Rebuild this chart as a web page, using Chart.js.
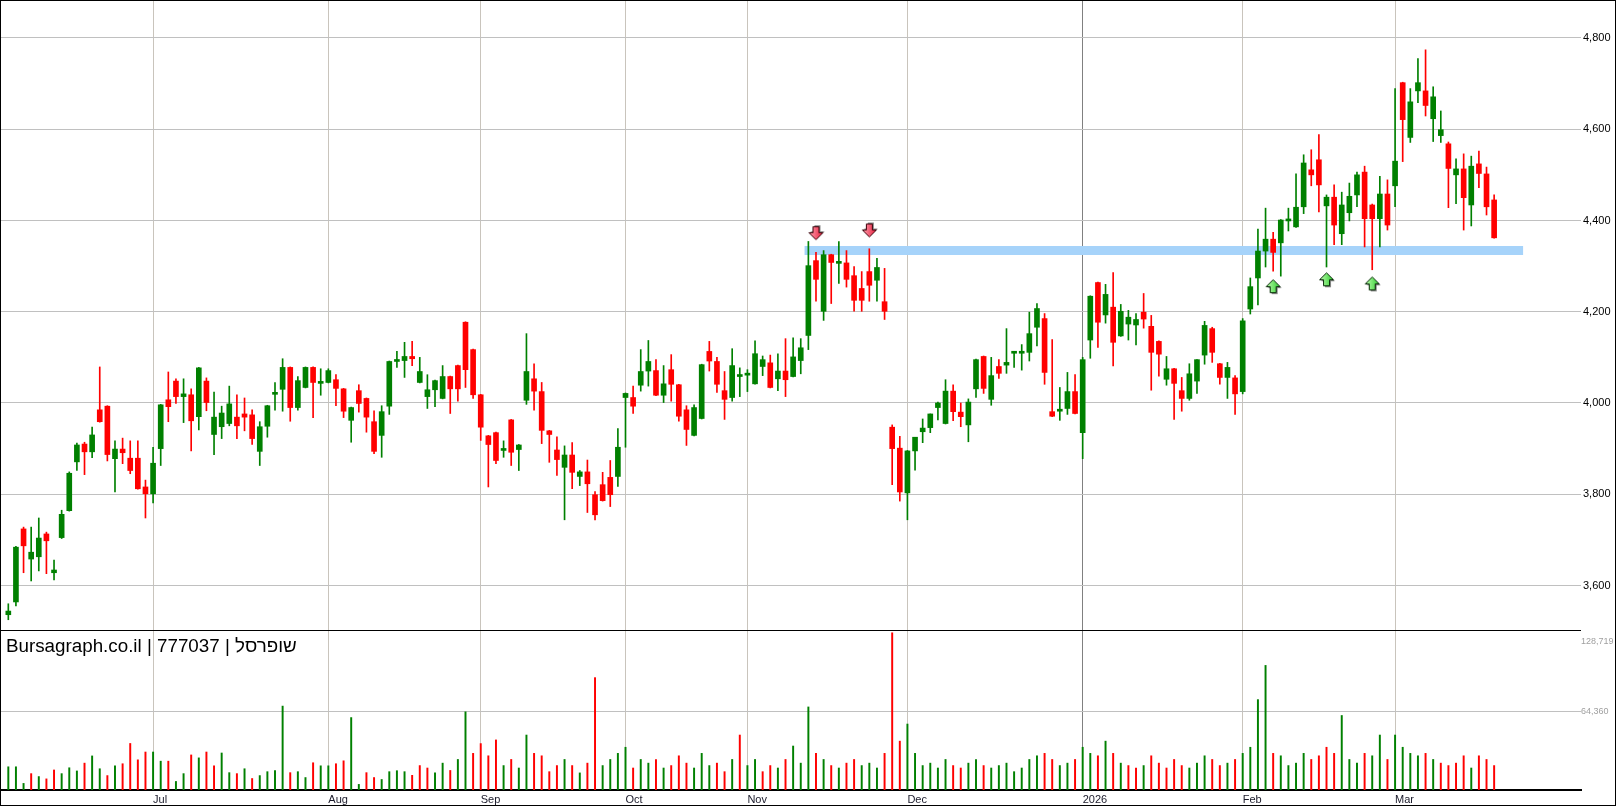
<!DOCTYPE html>
<html>
<head>
<meta charset="utf-8">
<script src="https://cdn.jsdelivr.net/npm/chart.js@4.4.1/dist/chart.umd.min.js"></script>
<style>
    html, body { margin: 0; padding: 0; background: #fff; }
    #wrap { width: 1616px; height: 806px; box-sizing: border-box; border: 1px solid #000; background: #fff; }
    canvas { display: block; }
</style>
</head>
<body>
<div id="wrap"><canvas id="priceChart" width="1614" height="804"></canvas></div>
<script>
// daily candles, index 0 = first trading day shown (June 2025)
const openP = [3536,3564,3724,3658,3663,3713,3628,3705,3764,3871,3910,3893,3985,3993,3878,3899,3879,3879,3816,3801,
    3900,4007,4048,4014,4018,3970,4048,3931,3948,3955,3969,3976,3974,3894,3949,4019,4030,4078,3990,4034,
    4078,4043,4045,4051,4031,3962,4027,4010,3959,3929,3993,4091,4093,4102,4045,4014,4029,4010,4058,4082,
    4177,4117,4018,3928,3935,3896,3963,3898,4006,4053,4025,3939,3897,3859,3886,3839,3849,3799,3821,3837,
    3839,4012,4012,4039,4070,4071,4017,4073,4040,3985,3929,3966,4113,4091,4027,4012,4058,4061,4042,4080,
    4088,4053,4070,4058,4093,4148,4312,4201,4325,4306,4307,4279,4251,4288,4269,4222,3947,3901,3803,3895,
    3937,3946,3990,3955,4026,3980,3952,4031,4102,4008,4080,4083,4109,4109,4111,4166,4185,3981,3982,3988,
    4025,3935,4138,4264,4193,4210,4147,4173,4171,4199,4168,4135,4052,4075,4027,4010,4048,4105,4163,4086,
    4056,4055,4025,4206,4274,4333,4359,4351,4399,4386,4430,4511,4533,4432,4451,4371,4417,4456,4506,4434,
    4404,4458,4476,4702,4582,4684,4684,4623,4586,4568,4500,4513,4434,4524,4502,4445];
const highP = [3560,3686,3728,3728,3748,3717,3656,3765,3849,3912,3914,3947,4079,3994,3917,3923,3917,3917,3831,3903,
    3997,4068,4053,4053,4031,4078,4055,4024,3993,4037,4018,4011,3985,3959,3995,4045,4097,4079,4058,4079,
    4079,4075,4075,4062,4032,3991,4040,4011,3983,3994,4092,4113,4133,4135,4100,4062,4050,4082,4059,4083,
    4178,4118,4019,3929,3936,3917,3964,3909,4152,4086,4045,3940,3926,3906,3913,3852,3875,3806,3848,3874,
    3944,4022,4037,4117,4137,4095,4082,4106,4041,3994,3996,4085,4135,4100,4069,4119,4077,4073,4136,4103,
    4105,4108,4141,4143,4141,4354,4330,4334,4326,4354,4334,4299,4288,4338,4317,4295,3952,3927,3896,3925,
    3965,3976,4002,4051,4040,4000,4009,4096,4103,4100,4095,4163,4111,4128,4199,4218,4196,4139,4034,4067,
    4062,4100,4235,4265,4260,4286,4216,4203,4196,4240,4192,4136,4102,4076,4056,4086,4095,4179,4166,4087,
    4089,4060,4185,4274,4381,4427,4374,4402,4427,4502,4544,4555,4588,4456,4478,4462,4482,4506,4519,4436,
    4497,4489,4689,4703,4689,4755,4774,4693,4640,4572,4535,4546,4541,4552,4517,4456];
const lowP = [3525,3555,3628,3610,3632,3626,3612,3703,3763,3852,3843,3880,3958,3873,3805,3867,3845,3811,3748,3781,
    3863,3959,3999,3957,3895,3941,3983,3887,3922,3950,3922,3939,3909,3863,3925,3984,3982,3960,3984,4033,
    3968,4017,4044,3994,3968,3914,3980,3936,3889,3881,3975,4078,4056,4082,4044,3988,3992,4009,3977,4004,
    4034,4010,3918,3816,3867,3881,3863,3852,3997,3984,3911,3870,3841,3744,3812,3819,3760,3744,3785,3773,
    3817,3903,3977,4026,4037,4016,4001,4004,3960,3907,3928,3965,4070,4023,3964,4004,4014,4025,4041,4060,
    4033,4027,4014,4057,4064,4117,4223,4181,4218,4262,4254,4201,4201,4223,4223,4183,3821,3785,3744,3853,
    3913,3935,3963,3954,3961,3948,3915,4012,4021,3995,4054,4065,4078,4072,4092,4125,4041,3970,3962,3975,
    3976,3878,4098,4122,4175,4081,4146,4138,4127,4164,4028,4059,4039,3964,3982,4006,4021,4085,4089,4041,
    4010,3975,4020,4195,4215,4298,4289,4278,4377,4385,4415,4476,4419,4298,4347,4347,4399,4430,4342,4292,
    4342,4379,4430,4529,4571,4658,4629,4573,4571,4428,4437,4379,4388,4472,4412,4361];
const closeP = [3544,3684,3687,3673,3704,3698,3634,3756,3846,3908,3893,3930,3959,3887,3899,3891,3852,3812,3801,3868,
    3996,3992,4014,4020,3961,4077,4001,3969,3978,3998,3950,3969,3922,3948,3994,4023,4078,3990,4049,4078,
    4045,4046,4071,4032,3982,3990,3999,3969,3894,3981,4091,4093,4102,4097,4069,4029,4049,4058,4031,4031,
    4073,4018,3947,3909,3874,3900,3892,3908,4069,4026,3940,3931,3876,3886,3848,3849,3823,3755,3786,3799,
    3903,4021,3993,4069,4091,4017,4042,4041,3971,3942,3990,4084,4092,4041,4008,4082,4060,4063,4108,4095,
    4034,4070,4051,4101,4121,4301,4271,4325,4308,4308,4271,4225,4225,4258,4297,4201,3900,3805,3895,3925,
    3945,3976,4000,4026,3981,3970,4002,4095,4032,4060,4065,4089,4111,4111,4152,4207,4067,3971,3985,4025,
    3977,4095,4234,4177,4238,4133,4201,4188,4183,4184,4111,4107,4075,4043,4010,4064,4095,4170,4111,4056,
    4078,4020,4180,4255,4333,4359,4330,4401,4401,4429,4526,4500,4478,4451,4390,4434,4453,4500,4404,4404,
    4458,4390,4530,4621,4660,4702,4652,4671,4599,4514,4513,4450,4519,4503,4430,4362];
const volume = [19000,19000,5400,13400,11000,9100,16400,13400,18200,15600,22000,27900,17400,11800,19800,21500,38100,24700,31100,31100,
    23600,23600,7000,13400,28700,26300,31100,19800,30300,14200,13400,17400,9400,11800,15000,15800,68700,14200,15000,10200,
    22300,19800,19800,21500,23900,59300,4600,14200,10200,8600,15000,15800,15000,12000,20000,18000,14000,22000,16000,25000,
    64000,30000,38000,28000,41000,20000,25000,18000,45000,30000,28000,15000,20000,25000,20000,14000,22000,92000,20000,25000,
    30000,35000,18000,25000,22000,25000,18000,20000,28000,22000,18000,30000,20000,22000,15000,25000,45000,20000,25000,15000,
    20000,18000,25000,36000,22000,68000,30000,25000,20000,18000,22000,25000,20000,22000,18000,30000,128719,40000,54000,30000,
    20000,22000,18000,25000,20000,18000,22000,25000,20000,18000,20000,22000,15000,18000,25000,28000,30000,25000,20000,22000,
    25000,35000,30000,28000,40000,30000,22000,20000,18000,20000,28000,22000,18000,25000,20000,18000,22000,28000,25000,20000,
    22000,25000,30000,35000,74000,102000,30000,28000,20000,22000,30000,25000,28000,35000,30000,61000,25000,22000,30000,28000,
    45000,25000,45000,35000,30000,28000,30000,25000,22000,20000,22000,28000,18000,28000,25000,20000];

// month boundaries (index of the first trading day of each month)
const monthStart = [19, 42, 62, 81, 97, 118, 141, 162, 182];
const monthLabel = ['Jul', 'Aug', 'Sep', 'Oct', 'Nov', 'Dec', '2026', 'Feb', 'Mar'];
const yearStart = 141;

const priceTicks = [3600, 3800, 4000, 4200, 4400, 4600, 4800];
const volumeTicks = [64360, 128719];

// support band and signal arrows
const bandLevel = 4334;
const bandFrom = 104.5;
const bandTo = 198.8;
const downArrows = [{ x: 106, y: 4371 }, { x: 113, y: 4377 }];
const upArrows = [{ x: 166, y: 4255 }, { x: 173, y: 4270 }, { x: 179, y: 4261 }];

const UP = '#008000';
const DOWN = '#ff0000';
const FONT = "'Liberation Sans', Arial, sans-serif";
const PRICE_MIN = 3502.5, PRICE_MAX = 4881;
const VOL_MAX = 131000;

function makeArrow(down, light, dark, edge, shadowDx, shadowDy) {
    const c = document.createElement('canvas');
    c.width = 19; c.height = 19;
    const g = c.getContext('2d');
    let pts = [[4, 0], [10, 0], [10, 6], [14, 6], [7, 13], [0, 6], [4, 6]];
    if (!down) pts = pts.map(p => [p[0], 13 - p[1]]);
    const path = (dx, dy) => {
        g.beginPath();
        pts.forEach((p, i) => i ? g.lineTo(p[0] + dx, p[1] + dy) : g.moveTo(p[0] + dx, p[1] + dy));
        g.closePath();
    };
    path(2.5 + shadowDx, 2.5 + shadowDy);
    g.fillStyle = '#8a8a8a';
    g.fill();
    path(2.5, 2.5);
    const grad = g.createLinearGradient(2.5, 0, 16.5, 0);
    grad.addColorStop(0, light);
    grad.addColorStop(1, dark);
    g.fillStyle = grad;
    g.fill();
    g.lineWidth = 1;
    g.strokeStyle = edge;
    g.stroke();
    return c;
}
const downArrowImg = makeArrow(true, '#ffa0b0', '#e8203e', '#3a0008', 1.5, -1.5);
const upArrowImg = makeArrow(false, '#c0ffb0', '#30cc30', '#062806', 1.5, 1.5);

const bodyData = openP.map((o, i) => ({ x: i, y: [o, closeP[i]] }));
const wickData = lowP.map((l, i) => ({ x: i, y: [l, highP[i]] }));
const volData = volume.map((v, i) => ({ x: i, y: v }));
const bodyColors = openP.map((o, i) => (closeP[i] >= o ? UP : DOWN));
const volColors = closeP.map((c, i) => (i === 0 || c >= closeP[i - 1] ? UP : DOWN));

// keep label overflow from shrinking the plot area
function noPadding(s) {
    s.paddingLeft = 0; s.paddingRight = 0; s.paddingTop = 0; s.paddingBottom = 0;
}

const titlePlugin = {
    id: 'titleText',
    afterDraw(chart) {
        const ctx = chart.ctx;
        ctx.save();
        ctx.font = '18.8px ' + FONT;
        ctx.fillStyle = '#000';
        ctx.textAlign = 'left';
        ctx.textBaseline = 'alphabetic';
        ctx.fillText('Bursagraph.co.il | 777037 | שופרסל', 5, 650.5);
        ctx.restore();
    }
};

new Chart(document.getElementById('priceChart'), {
    type: 'bar',
    data: {
        datasets: [
            {
                type: 'line', data: downArrows, yAxisID: 'y', order: 0,
                showLine: false, pointStyle: downArrowImg, pointRadius: 8
            },
            {
                type: 'line', data: upArrows, yAxisID: 'y', order: 0,
                showLine: false, pointStyle: upArrowImg, pointRadius: 8
            },
            {
                data: bodyData, yAxisID: 'y', order: 1, grouped: false,
                backgroundColor: bodyColors, barThickness: 5, minBarLength: 2
            },
            {
                data: wickData, yAxisID: 'y', order: 2, grouped: false,
                backgroundColor: bodyColors, barThickness: 1
            },
            {
                type: 'line', yAxisID: 'y', order: 3,
                data: [{ x: bandFrom, y: bandLevel }, { x: bandTo, y: bandLevel }],
                borderColor: '#a6d3fa', borderWidth: 9, borderCapStyle: 'butt', pointRadius: 0
            },
            {
                data: volData, yAxisID: 'yv', order: 4, grouped: false,
                backgroundColor: volColors, barThickness: 1.3
            }
        ]
    },
    options: {
        responsive: false,
        animation: false,
        devicePixelRatio: 1,
        layout: { padding: 0, autoPadding: false },
        plugins: { legend: { display: false }, tooltip: { enabled: false } },
        scales: {
            x: {
                type: 'linear', position: 'bottom', min: -0.96, max: 206.4, offset: false,
                afterBuildTicks: s => { s.ticks = monthStart.map(v => ({ value: v })); },
                afterFit: s => { s.height = 15; noPadding(s); },
                ticks: {
                    autoSkip: false, maxRotation: 0, align: 'start', padding: 3,
                    color: '#1a1a2a', font: { family: FONT, size: 11 },
                    callback: v => monthLabel[monthStart.indexOf(v)]
                },
                grid: {
                    offset: false, drawTicks: false,
                    color: ctx => (ctx.tick && ctx.tick.value === yearStart ? '#808080' : '#c9c4bc')
                },
                border: { display: true, color: '#000', width: 2 }
            },
            y: {
                position: 'right', stack: 'panes', stackWeight: 629,
                min: PRICE_MIN, max: PRICE_MAX,
                afterBuildTicks: s => { s.ticks = [PRICE_MIN].concat(priceTicks).map(v => ({ value: v })); },
                afterFit: s => { s.width = 34; noPadding(s); },
                ticks: {
                    padding: 2, color: '#000', font: { family: FONT, size: 11 },
                    callback: v => (v === PRICE_MIN ? '' : v.toLocaleString('en-US'))
                },
                grid: {
                    drawTicks: false,
                    color: ctx => (ctx.tick && ctx.tick.value === PRICE_MIN ? '#000' : '#c0c0c0')
                },
                border: { display: false }
            },
            yv: {
                position: 'right', stack: 'panes', stackWeight: 160,
                min: 0, max: VOL_MAX,
                // top label sits just under the pane separator
                afterBuildTicks: s => { s.ticks = [{ value: volumeTicks[0] }, { value: volumeTicks[1] - 7400 }]; },
                afterFit: s => { s.width = 34; noPadding(s); },
                ticks: {
                    padding: 0, color: '#a0a0a0', font: { family: FONT, size: 9 },
                    callback: (v, i) => volumeTicks[i].toLocaleString('en-US')
                },
                grid: {
                    drawTicks: false,
                    color: ctx => (ctx.index === 0 ? '#c0c0c0' : 'rgba(0,0,0,0)')
                },
                border: { display: false }
            }
        }
    },
    plugins: [titlePlugin]
});
</script>
</body>
</html>
